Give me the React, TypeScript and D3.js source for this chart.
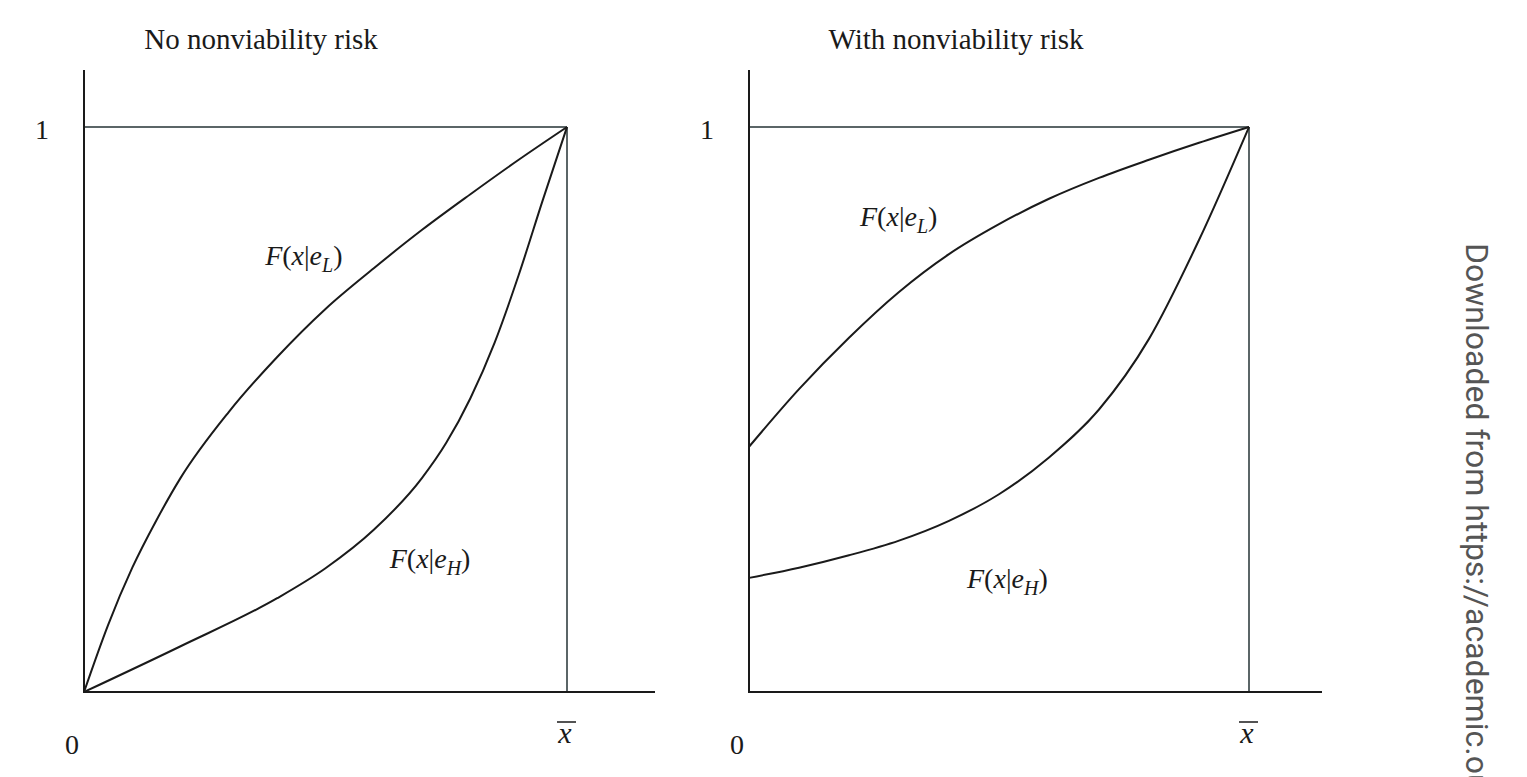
import React, { useEffect, useRef } from 'react';
import * as d3 from 'd3';

// share of xbar (0..1) and cumulative probability F (0..1)
const gridX = [0, 0.05, 0.1, 0.15, 0.2, 0.3, 0.4, 0.5, 0.6, 0.7, 0.8, 0.9, 1];
const leftLowF = [0, 0.119, 0.22, 0.304, 0.379, 0.496, 0.593, 0.678, 0.75, 0.818, 0.881, 0.942, 1];

const leftHighX = [0, 0.2, 0.4, 0.5, 0.6, 0.7, 0.75, 0.8, 0.85, 0.9, 0.95, 1];
const leftHighF = [0, 0.081, 0.166, 0.219, 0.287, 0.379, 0.441, 0.52, 0.618, 0.738, 0.871, 1];

const rightX = [0, 0.1, 0.2, 0.3, 0.4, 0.5, 0.6, 0.7, 0.8, 0.9, 1];
const rightLowF = [0.434, 0.536, 0.627, 0.708, 0.775, 0.828, 0.873, 0.91, 0.942, 0.972, 1];
const rightHighF = [0.202, 0.22, 0.242, 0.268, 0.303, 0.35, 0.415, 0.5, 0.625, 0.8, 1];

const titles = ['No nonviability risk', 'With nonviability risk'];
const seriesSubs = ['L', 'H'];

const SERIF = '"Liberation Serif", "Times New Roman", serif';

const zip = (xs: number[], ys: number[]) => xs.map((x, i) => [x, ys[i]] as [number, number]);

const panels = [
  {
    title: titles[0], titleX: 261, left: 84, right: 567, axisEnd: 655,
    low: zip(gridX, leftLowF), high: zip(leftHighX, leftHighF),
    lowLabel: [0.375, 0.756], highLabel: [0.633, 0.22],
  },
  {
    title: titles[1], titleX: 956, left: 749, right: 1249, axisEnd: 1322,
    low: zip(rightX, rightLowF), high: zip(rightX, rightHighF),
    lowLabel: [0.222, 0.825], highLabel: [0.436, 0.184],
  },
];

const App = () => {
  const svgRef = useRef<SVGSVGElement>(null);

  useEffect(() => {
    const svg = d3.select(svgRef.current);
    svg.selectAll('*').remove();

    const top = 127, bottom = 692;

    panels.forEach(p => {
      const x = d3.scaleLinear().domain([0, 1]).range([p.left, p.right]);
      const y = d3.scaleLinear().domain([0, 1]).range([bottom, top]);
      const g = svg.append('g');

      // grey box at F = 1 and x = xbar
      g.append('line')
        .attr('x1', x(0)).attr('x2', x(1)).attr('y1', y(1)).attr('y2', y(1))
        .attr('stroke', '#5b6567').attr('stroke-width', 2);
      g.append('line')
        .attr('x1', x(1)).attr('x2', x(1)).attr('y1', y(1)).attr('y2', y(0))
        .attr('stroke', '#5b6567').attr('stroke-width', 2);

      // axes
      g.append('line')
        .attr('x1', x(0)).attr('x2', x(0)).attr('y1', 70).attr('y2', y(0))
        .attr('stroke', '#1a1a1a').attr('stroke-width', 2);
      g.append('line')
        .attr('x1', x(0) - 1).attr('x2', p.axisEnd).attr('y1', y(0)).attr('y2', y(0))
        .attr('stroke', '#1a1a1a').attr('stroke-width', 2);

      const line = d3.line<[number, number]>()
        .x(d => x(d[0]))
        .y(d => y(d[1]))
        .curve(d3.curveMonotoneX);

      [p.low, p.high].forEach(s => {
        g.append('path')
          .attr('d', line(s))
          .attr('fill', 'none')
          .attr('stroke', '#1a1a1a')
          .attr('stroke-width', 2);
      });

      // title
      g.append('text')
        .attr('x', p.titleX)
        .attr('y', 49)
        .attr('text-anchor', 'middle')
        .style('font-family', SERIF)
        .style('font-size', '29px')
        .attr('fill', '#1a1a1a')
        .text(p.title);

      // tick labels
      g.append('text')
        .attr('x', x(0) - 42).attr('y', y(1) + 12)
        .attr('text-anchor', 'middle')
        .style('font-family', SERIF).style('font-size', '28px')
        .attr('fill', '#1a1a1a')
        .text('1');
      g.append('text')
        .attr('x', x(0) - 12).attr('y', y(0) + 62)
        .attr('text-anchor', 'middle')
        .style('font-family', SERIF).style('font-size', '28px')
        .attr('fill', '#1a1a1a')
        .text('0');
      g.append('text')
        .attr('x', x(1) - 2).attr('y', y(0) + 51)
        .attr('text-anchor', 'middle')
        .style('font-family', SERIF).style('font-size', '30px')
        .style('font-style', 'italic')
        .attr('fill', '#1a1a1a')
        .text('x');
      g.append('line')
        .attr('x1', x(1) - 10).attr('x2', x(1) + 9)
        .attr('y1', y(0) + 30).attr('y2', y(0) + 30)
        .attr('stroke', '#1a1a1a').attr('stroke-width', 1.5);

      // curve labels F(x|e_L), F(x|e_H)
      [p.lowLabel, p.highLabel].forEach((pos, i) => {
        const t = g.append('text')
          .attr('x', x(pos[0])).attr('y', y(pos[1]))
          .style('font-family', SERIF).style('font-size', '28px')
          .attr('fill', '#1a1a1a');
        t.append('tspan').style('font-style', 'italic').text('F');
        t.append('tspan').text('(');
        t.append('tspan').style('font-style', 'italic').text('x');
        t.append('tspan').text('|');
        t.append('tspan').style('font-style', 'italic').text('e');
        t.append('tspan').style('font-style', 'italic').style('font-size', '20px')
          .attr('dy', 7).text(seriesSubs[i]);
        t.append('tspan').attr('dy', -7).text(')');
      });
    });

    // side watermark
    svg.append('text')
      .attr('transform', 'translate(1466,243) rotate(90)')
      .style('font-family', 'Roboto, "Liberation Sans", sans-serif')
      .style('font-size', '32px')
      .attr('fill', '#555')
      .text('Downloaded from https://academic.oup.com');
  }, []);

  return (
    <svg
      ref={svgRef}
      width={1527}
      height={777}
      style={{ position: 'absolute', left: 0, top: 0, background: '#fff' }}
    />
  );
};

export default App;
